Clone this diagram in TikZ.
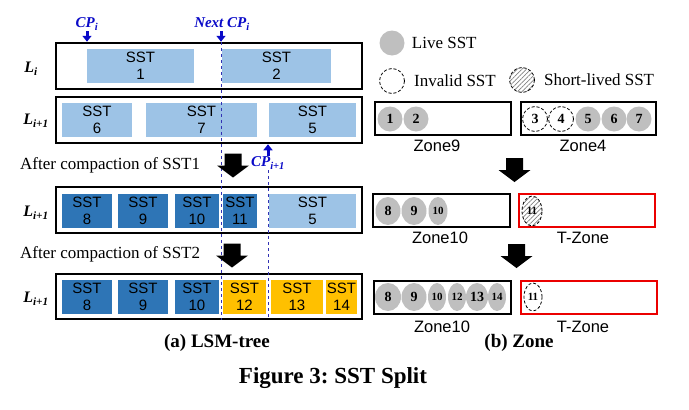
\documentclass[tikz,border=0pt]{standalone}
\usepackage{fontspec}
\setmainfont{Liberation Serif}
\setsansfont{Liberation Sans}
\usetikzlibrary{positioning,shapes.geometric,patterns.meta,arrows.meta}

\definecolor{sstlight}{RGB}{157,195,230}
\definecolor{sstdark}{RGB}{46,117,182}
\definecolor{sstorange}{RGB}{255,192,0}
\definecolor{livegray}{RGB}{191,191,191}
\definecolor{cpblue}{RGB}{10,10,200}
\definecolor{cpdash}{RGB}{50,50,180}
\definecolor{tzonered}{RGB}{235,0,0}

\begin{document}
\begin{tikzpicture}[x=1pt, y=-1pt,
    level/.style={rectangle, draw, line width=2.5pt, inner sep=0pt, minimum width=306pt, minimum height=46pt},
    sst/.style={rectangle, inner sep=0pt, minimum height=34pt, align=center, font=\sffamily\fontsize{15}{17}\selectfont},
    zonebox/.style={rectangle, draw, line width=2pt, inner sep=0pt, minimum width=136pt, minimum height=33pt},
    tzone/.style={zonebox, draw=tzonered},
    live/.style={ellipse, fill=livegray, inner sep=0pt, minimum width=25pt, minimum height=28pt, font=\bfseries\fontsize{14}{14}\selectfont},
    invalid/.style={ellipse, draw, line width=0.8pt, dash pattern=on 3pt off 2pt, inner sep=0pt, minimum width=25pt, minimum height=28pt, font=\bfseries\fontsize{14}{14}\selectfont},
    shortlived/.style={invalid, pattern={Lines[angle=45, distance=3.2pt, line width=0.7pt]}, pattern color=gray},
    small/.style={font=\bfseries\fontsize{11}{11}\selectfont},
    cplabel/.style={text=cpblue, inner sep=1pt, font=\bfseries\itshape\fontsize{15}{15}\selectfont},
    cparrow/.style={draw=cpblue, line width=3pt, -{Triangle[width=9pt,length=6pt]}},
    cpline/.style={draw=cpdash, dashed, line width=1pt},
    levellabel/.style={font=\bfseries\itshape\fontsize{16}{16}\selectfont},
    note/.style={inner sep=0pt, font=\fontsize{17}{17}\selectfont},
    zonelabel/.style={inner sep=0pt, font=\sffamily\fontsize{16.5}{16.5}\selectfont},
    caption/.style={font=\bfseries\fontsize{19}{19}\selectfont},
    blockdown/.pic={\fill (-8.5,-12) -- (8.5,-12) -- (8.5,0) -- (16,0) -- (0,12) -- (-16,0) -- (-8.5,0) -- cycle;}
]
    \useasboundingbox (0,0) rectangle (689,410);

    % LSM-tree levels
    \node [level] (li) at (209,66) {};
    \node [level] (lnext) at (209,120) {};
    \node [level] (lafter1) at (209,210) {};
    \node [level, minimum height=45pt] (lafter2) at (209,296.5) {};

    \node [levellabel] (labli) at (31,69) {L\textsubscript{i}};
    \node [levellabel] (lablnext) at (36,121) {L\textsubscript{i+1}};
    \node [levellabel] (lablafter1) at (36,213) {L\textsubscript{i+1}};
    \node [levellabel] (lablafter2) at (36,299) {L\textsubscript{i+1}};

    % SSTs in L_i
    \node [sst, fill=sstlight, minimum width=107pt] (sst1) at (140.5,66) {SST\\1};
    \node [sst, fill=sstlight, minimum width=109pt] (sst2) at (276.5,66) {SST\\2};

    % SSTs in L_i+1
    \node [sst, fill=sstlight, minimum width=70pt] (sst6) at (97,120) {SST\\6};
    \node [sst, fill=sstlight, minimum width=111pt] (sst7) at (201.5,120) {SST\\7};
    \node [sst, fill=sstlight, minimum width=87pt] (sst5) at (312.5,120) {SST\\5};

    % After compaction of SST1
    \node [sst, fill=sstdark, minimum width=50pt] (asst8) at (87,210.5) {SST\\8};
    \node [sst, fill=sstdark, minimum width=50pt] (asst9) at (143,210.5) {SST\\9};
    \node [sst, fill=sstdark, minimum width=44pt] (asst10) at (197,210.5) {SST\\10};
    \node [sst, fill=sstdark, minimum width=34pt] (asst11) at (240,210.5) {SST\\11};
    \node [sst, fill=sstlight, minimum width=87pt] (asst5) at (312.5,210.5) {SST\\5};

    % After compaction of SST2
    \node [sst, fill=sstdark, minimum width=50pt] (bsst8) at (87,297) {SST\\8};
    \node [sst, fill=sstdark, minimum width=50pt] (bsst9) at (143,297) {SST\\9};
    \node [sst, fill=sstdark, minimum width=44pt] (bsst10) at (197,297) {SST\\10};
    \node [sst, fill=sstorange, minimum width=43pt] (bsst12) at (244.5,297) {SST\\12};
    \node [sst, fill=sstorange, minimum width=52pt] (bsst13) at (297,297) {SST\\13};
    \node [sst, fill=sstorange, minimum width=31pt] (bsst14) at (341.5,297) {SST\\14};

    % Compaction pointers
    \node [cplabel] (cpi) at (87,24) {CP\textsubscript{i}};
    \node [cplabel] (nextcp) at (222,24) {Next CP\textsubscript{i}};
    \node [cplabel] (cpnext) at (268,163) {CP\textsubscript{i+1}};
    \coordinate (nexttop) at (221,0 |- li.north);
    \draw [cparrow] (cpi.south) -- (cpi.south |- li.north);
    \draw [cparrow] (nexttop |- nextcp.south) -- (nexttop);
    \draw [cparrow] (cpnext.north) -- (cpnext.north |- lnext.south);
    \draw [cpline] (nexttop) -- (nexttop |- lafter2.south);
    \draw [cpline] (cpnext.south) -- (cpnext.south |- lafter2.south);

    % Steps
    \node [note, anchor=west] (step1) at (20,165) {After compaction of SST1};
    \node [note, anchor=west] (step2) at (20,254) {After compaction of SST2};
    \pic at (233,165.5) {blockdown};
    \pic at (232,255.5) {blockdown};

    % Legend
    \node [live, minimum height=25pt] (leglive) at (392,43) {};
    \node [note, right=7pt of leglive] (leglivetext) {Live SST};
    \node [invalid, minimum height=25pt] (leginvalid) at (392,81) {};
    \node [note, right=9pt of leginvalid] (leginvalidtext) {Invalid SST};
    \node [shortlived, minimum height=25pt] (legshort) at (522,80) {};
    \node [note, right=9pt of legshort] (legshorttext) {Short-lived SST};

    % Zones before
    \node [zonebox] (zone9) at (443,118) {};
    \node [zonebox, minimum width=135pt] (zone4) at (588.5,118) {};
    \node [live, minimum height=25pt] (z9c1) at (390,119) {1};
    \node [live, minimum height=25pt] (z9c2) at (416,119) {2};
    \node [invalid, minimum height=25pt] (z4c3) at (535,119) {3};
    \node [invalid, minimum height=25pt] (z4c4) at (561,119) {4};
    \node [live, minimum height=25pt] (z4c5) at (588,119) {5};
    \node [live, minimum height=25pt] (z4c6) at (614,119) {6};
    \node [live, minimum height=25pt] (z4c7) at (639,119) {7};
    \node [zonelabel] (zone9lab) at (437,146) {Zone9};
    \node [zonelabel] (zone4lab) at (583,146) {Zone4};
    \pic at (514.5,170) {blockdown};

    % Zones after SST1
    \node [zonebox, minimum width=137pt] (zone10a) at (441.5,210.5) {};
    \node [tzone] (tzonea) at (587,210.5) {};
    \node [live] (za8) at (388,211) {8};
    \node [live] (za9) at (414,211) {9};
    \node [live, small, minimum width=19pt] (za10) at (438,211) {10};
    \node [shortlived, small, minimum width=20pt, minimum height=30pt] (ta11) at (532,211) {11};
    \node [zonelabel] (zone10alab) at (440,238) {Zone10};
    \node [zonelabel] (tzonealab) at (583,238) {T-Zone};
    \pic at (516.5,256) {blockdown};

    % Zones after SST2
    \node [zonebox, minimum width=137pt] (zone10b) at (442.5,297.5) {};
    \node [tzone] (tzoneb) at (589,297.5) {};
    \node [live, minimum width=26pt] (zb8) at (388,297) {8};
    \node [live] (zb9) at (414,297) {9};
    \node [live, small, minimum width=18pt] (zb10) at (437,297) {10};
    \node [live, small, minimum width=18pt] (zb12) at (457,297) {12};
    \node [live, minimum width=22pt] (zb13) at (477,297) {13};
    \node [live, small, minimum width=18pt] (zb14) at (497,297) {14};
    \node [invalid, small, minimum width=18pt] (tb11) at (533,297) {11};
    \node [zonelabel] (zone10blab) at (442,327) {Zone10};
    \node [zonelabel] (tzoneblab) at (583,327) {T-Zone};

    % Captions
    \node [caption] (capa) at (217,343) {(a) LSM-tree};
    \node [caption] (capb) at (519,343) {(b) Zone};
    \node [caption, font=\bfseries\fontsize{23}{23}\selectfont] (figcap) at (333,378) {Figure 3:\ SST Split};
\end{tikzpicture}
\end{document}
